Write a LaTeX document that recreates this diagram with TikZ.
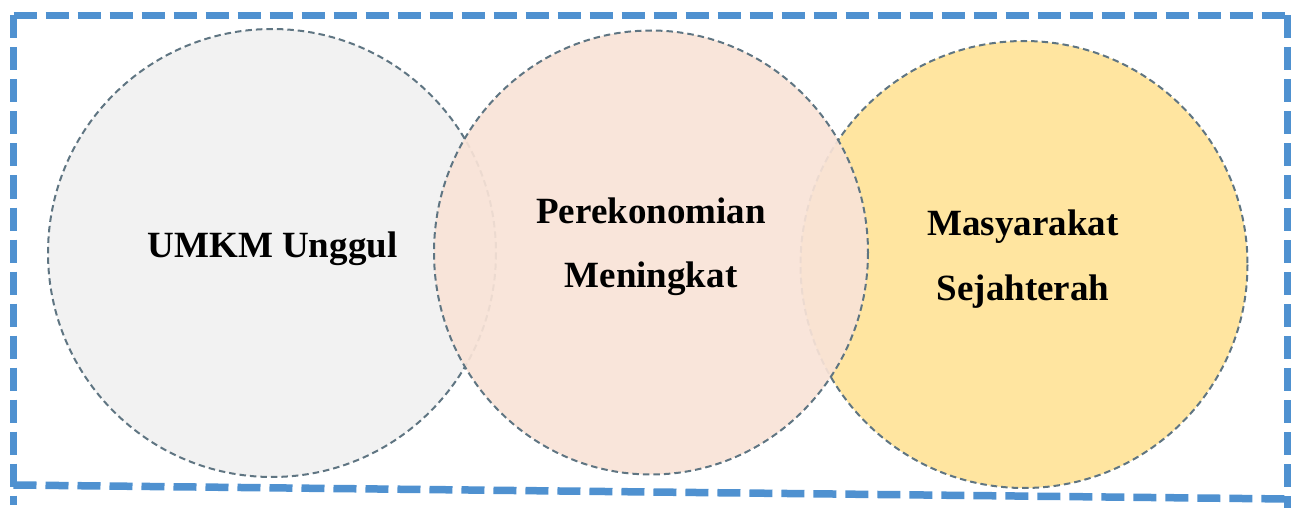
\documentclass[tikz,border=0pt]{standalone}
\usepackage{fontspec}
\setmainfont{Liberation Serif}
\definecolor{frameblue}{RGB}{79,145,208}
\definecolor{rimgray}{RGB}{95,117,130}
\definecolor{fillgray}{RGB}{242,242,242}
\definecolor{fillpeach}{RGB}{249,227,215}
\definecolor{fillyellow}{RGB}{255,229,160}
\tikzset{
  framebox/.style={draw=frameblue, line width=7.5pt, dash pattern=on 23pt off 9pt},
  venn/.style={draw=rimgray, line width=2pt, dash pattern=on 6.5pt off 4pt},
  label/.style={font=\fontsize{37}{64}\selectfont\bfseries, align=center, anchor=base, inner sep=0pt}
}
\begin{document}
\begin{tikzpicture}[x=1pt,y=-1pt]
\useasboundingbox (0,0) rectangle (1291,508);
% circles
\path[venn, fill=fillgray] (272,253) circle (224);
\path[venn, fill=fillyellow] (1024,264.5) circle (223.5);
\path[venn, fill=fillpeach, fill opacity=0.92] (651,252.5) ellipse [x radius=217, y radius=222];
% frame
\coordinate (tl) at (13.5,15.5);
\coordinate (tr) at (1288,15.5);
\coordinate (bl) at (13.5,485);
\coordinate (br) at (1288,499);
\coordinate (lend) at (13.5,505);
\coordinate (rend) at (1288,509);
\draw[framebox] (tl) -- (lend);
\draw[framebox] (tl) -- (tr);
\draw[framebox] (tr) -- (rend);
\draw[framebox] (bl) -- (br);
% labels (anchor = baseline of the last line)
\node[label] (umkm) at (272.5,257) {UMKM Unggul};
\node[label] (eko) at (651,287) {Perekonomian\\Meningkat};
\node[label] (mas) at (1023,300) {Masyarakat\\[1pt]Sejahterah};
\end{tikzpicture}
\end{document}
